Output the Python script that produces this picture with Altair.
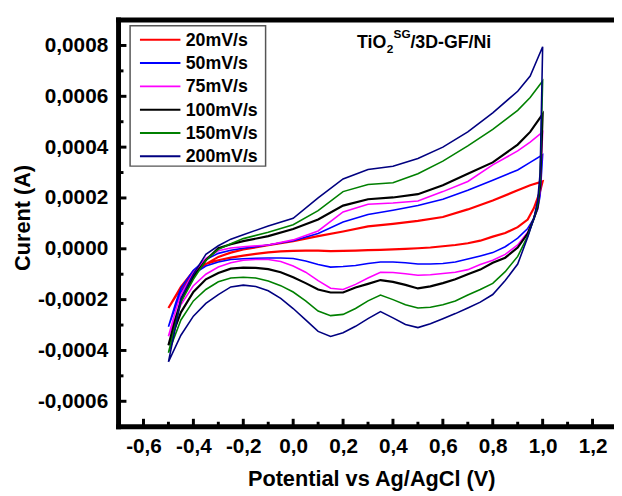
import altair as alt
import pandas as pd

SERIES = ["20mV/s", "50mV/s", "75mV/s", "100mV/s", "150mV/s", "200mV/s"]
COLORS = ["#ff0000", "#0000ff", "#ff00ff", "#000000", "#008000", "#000080"]
LINE_W = [2.2, 1.6, 1.6, 2.2, 1.6, 1.6]

# potential (V) of the anodic (forward) and cathodic (reverse) sweeps
X_FWD = [-0.5, -0.47, -0.45, -0.4, -0.35, -0.3, -0.25, -0.2, -0.1, 0.0, 0.1,
         0.2, 0.3, 0.4, 0.5, 0.6, 0.7, 0.8, 0.9, 0.95, 1.0]
X_REV = [1.0, 0.99, 0.98, 0.965, 0.94, 0.9, 0.85, 0.8, 0.75, 0.7, 0.65, 0.6,
         0.55, 0.5, 0.45, 0.4, 0.35, 0.3, 0.25, 0.2, 0.15, 0.1, 0.05, 0.0,
         -0.05, -0.1, -0.15, -0.2, -0.25, -0.3, -0.35, -0.4, -0.45, -0.5]

# current, in units of 1e-4 A
FWD_20 = [-2.33, -1.85, -1.6, -1.0, -0.6, -0.32, -0.15, -0.03, 0.14, 0.3, 0.5,
          0.68, 0.88, 0.98, 1.1, 1.25, 1.55, 1.9, 2.3, 2.5, 2.65]
REV_20 = [2.65, 2.27, 2.0, 1.6, 1.15, 0.85, 0.62, 0.48, 0.32, 0.22, 0.15, 0.1,
          0.05, 0.02, 0.0, -0.02, -0.04, -0.05, -0.07, -0.08, -0.09, -0.07, -0.07, -0.08,
          -0.1, -0.14, -0.2, -0.27, -0.35, -0.45, -0.6, -0.88, -1.5, -2.33]

FWD_50 = [-3.07, -2.1, -1.55, -0.85, -0.42, -0.18, -0.06, 0.02, 0.15, 0.32, 0.6,
          1.05, 1.35, 1.52, 1.7, 1.95, 2.3, 2.7, 3.1, 3.4, 3.7]
REV_50 = [3.7, 2.1, 1.55, 1.2, 0.8, 0.42, 0.08, -0.15, -0.28, -0.4, -0.52, -0.58,
          -0.6, -0.6, -0.55, -0.52, -0.52, -0.58, -0.66, -0.7, -0.72, -0.62, -0.48, -0.38,
          -0.36, -0.36, -0.37, -0.39, -0.42, -0.52, -0.68, -1.0, -1.7, -3.07]

FWD_75 = [-3.44, -2.4, -1.8, -0.95, -0.38, -0.08, 0.03, 0.08, 0.15, 0.35, 0.7,
          1.45, 1.75, 1.8, 1.88, 2.25, 2.65, 3.3, 3.85, 4.2, 4.6]
REV_75 = [4.6, 2.3, 1.6, 1.2, 0.65, 0.15, -0.22, -0.45, -0.62, -0.82, -0.92, -0.97,
          -1.02, -1.04, -0.98, -0.93, -0.92, -1.15, -1.4, -1.6, -1.55, -1.25, -0.92, -0.68,
          -0.5, -0.42, -0.42, -0.45, -0.55, -0.72, -1.0, -1.45, -2.2, -3.44]

FWD_100 = [-3.8, -2.7, -2.05, -1.1, -0.45, 0.02, 0.18, 0.3, 0.5, 0.78, 1.15,
           1.7, 1.95, 2.02, 2.15, 2.5, 2.95, 3.4, 4.1, 4.6, 5.3]
REV_100 = [5.3, 2.5, 1.65, 1.2, 0.6, 0.05, -0.35, -0.55, -0.82, -1.0, -1.2, -1.35,
           -1.48, -1.56, -1.42, -1.3, -1.23, -1.38, -1.52, -1.72, -1.72, -1.6, -1.35, -1.12,
           -0.92, -0.8, -0.75, -0.74, -0.78, -0.95, -1.2, -1.7, -2.5, -3.8]

FWD_150 = [-4.09, -2.9, -2.1, -1.2, -0.45, -0.02, 0.2, 0.4, 0.65, 0.95, 1.5,
           2.25, 2.53, 2.6, 2.95, 3.45, 4.05, 4.7, 5.45, 5.95, 6.6]
REV_150 = [6.6, 2.7, 1.75, 1.2, 0.5, -0.3, -0.9, -1.36, -1.6, -1.82, -2.05, -2.2,
           -2.3, -2.33, -2.2, -2.0, -1.82, -2.05, -2.35, -2.58, -2.63, -2.45, -2.05, -1.7,
           -1.45, -1.27, -1.15, -1.12, -1.15, -1.3, -1.6, -2.05, -2.8, -4.09]

FWD_200 = [-4.45, -3.0, -1.95, -1.0, -0.22, 0.12, 0.38, 0.55, 0.9, 1.2, 2.0,
           2.75, 3.12, 3.25, 3.55, 4.0, 4.6, 5.35, 6.2, 6.8, 7.95]
REV_200 = [7.95, 3.0, 1.9, 1.2, 0.45, -0.6, -1.25, -1.8, -2.1, -2.33, -2.55, -2.75,
           -2.95, -3.1, -2.98, -2.72, -2.47, -2.75, -3.05, -3.3, -3.45, -3.25, -2.8, -2.35,
           -1.95, -1.65, -1.48, -1.43, -1.5, -1.8, -2.15, -2.65, -3.4, -4.45]

FWD = [FWD_20, FWD_50, FWD_75, FWD_100, FWD_150, FWD_200]
REV = [REV_20, REV_50, REV_75, REV_100, REV_150, REV_200]
UNIT = 1e-4

X_TICKS = [-0.6, -0.4, -0.2, 0.0, 0.2, 0.4, 0.6, 0.8, 1.0, 1.2]
X_MINOR = [-0.5, -0.3, -0.1, 0.1, 0.3, 0.5, 0.7, 0.9, 1.1]
Y_TICKS = [-0.0006, -0.0004, -0.0002, 0.0, 0.0002, 0.0004, 0.0006, 0.0008]
Y_MINOR = [-0.0005, -0.0003, -0.0001, 0.0001, 0.0003, 0.0005, 0.0007]

W, H = 502, 412
FONT = "Liberation Sans"

rows = []
for s, f, r in zip(SERIES, FWD, REV):
    i = 0
    for xv, yv in zip(X_FWD, f):
        rows.append({"series": s, "i": i, "x": xv, "y": yv * UNIT}); i += 1
    for xv, yv in zip(X_REV, r):
        rows.append({"series": s, "i": i, "x": xv, "y": yv * UNIT}); i += 1
df = pd.DataFrame(rows)

xs = alt.Scale(domain=[-0.7, 1.286], nice=False, zero=False)
ys = alt.Scale(domain=[-0.0007, 0.0009], nice=False, zero=False)

common_axis = dict(ticks=False, grid=False, domain=False,
                   labelFont=FONT, labelFontWeight="bold", labelFontSize=21,
                   labelColor="black", labelOverlap=False, labelFlush=False,
                   titleFont=FONT, titleFontWeight="bold", titleFontSize=22,
                   titleColor="black")
xaxis = alt.Axis(values=X_TICKS,
                 labelExpr="(datum.value < 0 ? '-' : '') + replace(format(abs(datum.value), '.1f'), '.', ',')",
                 title="Potential vs Ag/AgCl (V)", labelPadding=9,
                 titleX=256, titleY=60, titleAlign="center", titleBaseline="alphabetic",
                 **common_axis)
yaxis = alt.Axis(values=Y_TICKS,
                 labelExpr="(datum.value < 0 ? '-' : '') + replace(format(abs(datum.value), '.4f'), '.', ',')",
                 title="Curent (A)", labelPadding=11,
                 titleAngle=270, titleX=-90, titleY=200, titleAlign="center",
                 titleBaseline="alphabetic", **common_axis)

X = alt.X("x:Q", scale=xs, axis=xaxis)
Y = alt.Y("y:Q", scale=ys, axis=yaxis)

one = pd.DataFrame({"a": [0]})
layers = []

for s, c, w in zip(SERIES, COLORS, LINE_W):
    layers.append(
        alt.Chart(df[df["series"] == s]).mark_line(color=c, strokeWidth=w)
        .encode(x=X, y=Y, order="i:Q")
    )

# inward ticks
layers.append(alt.Chart(pd.DataFrame({"x": X_TICKS})).mark_rule(color="black", strokeWidth=3)
              .encode(x=X, y=alt.value(H), y2=alt.value(H - 8)))
layers.append(alt.Chart(pd.DataFrame({"x": X_MINOR})).mark_rule(color="black", strokeWidth=3)
              .encode(x=X, y=alt.value(H), y2=alt.value(H - 5)))
layers.append(alt.Chart(pd.DataFrame({"y": Y_TICKS})).mark_rule(color="black", strokeWidth=3)
              .encode(y=Y, x=alt.value(0), x2=alt.value(8)))
layers.append(alt.Chart(pd.DataFrame({"y": Y_MINOR})).mark_rule(color="black", strokeWidth=3)
              .encode(y=Y, x=alt.value(0), x2=alt.value(5)))

# frame lines (top, left, bottom) drawn as thick filled bars
layers.append(alt.Chart(one).mark_rect(color="black")
              .encode(x=alt.value(-2.5), x2=alt.value(W), y=alt.value(-2.5), y2=alt.value(2.5)))
layers.append(alt.Chart(one).mark_rect(color="black")
              .encode(x=alt.value(-2.5), x2=alt.value(2.5), y=alt.value(-2.5), y2=alt.value(H + 2.5)))
layers.append(alt.Chart(one).mark_rect(color="black")
              .encode(x=alt.value(-2.5), x2=alt.value(W), y=alt.value(H - 2.5), y2=alt.value(H + 2.5)))

# legend
layers.append(alt.Chart(one).mark_rect(fill="white", stroke="#555555", strokeWidth=1.5)
              .encode(x=alt.value(11.7), x2=alt.value(149), y=alt.value(5.7), y2=alt.value(148)))
for k, (s, c, w) in enumerate(zip(SERIES, COLORS, LINE_W)):
    yy = 20 + 23.6 * k
    layers.append(alt.Chart(one).mark_rule(color=c, strokeWidth=2)
                  .encode(x=alt.value(21.7), x2=alt.value(62.7), y=alt.value(yy)))
    layers.append(alt.Chart(one).mark_text(text=s, font=FONT, fontWeight="bold", fontSize=18,
                                           align="left", baseline="middle", color="black")
                  .encode(x=alt.value(68), y=alt.value(yy + 1)))

# sample label TiO2^SG/3D-GF/Ni
parts = [("TiO", 18, 0, 0), ("2", 12, 30, 5), ("SG", 12, 37, -10), ("/3D-GF/Ni", 18, 54, 0)]
for txt, fs, dx, dy in parts:
    layers.append(alt.Chart(one).mark_text(text=txt, font=FONT, fontWeight="bold", fontSize=fs,
                                           align="left", baseline="alphabetic", color="black",
                                           dx=dx, dy=dy)
                  .encode(x=alt.value(241.7), y=alt.value(28)))

chart = alt.layer(*layers).properties(
    width=W, height=H,
    autosize=alt.AutoSizeParams(type="none"),
    padding={"left": 112, "top": 9, "right": 0, "bottom": 67},
    background="white",
).configure_view(stroke=None)

chart.save("out.html", embed_options={"renderer": "svg", "actions": False})
